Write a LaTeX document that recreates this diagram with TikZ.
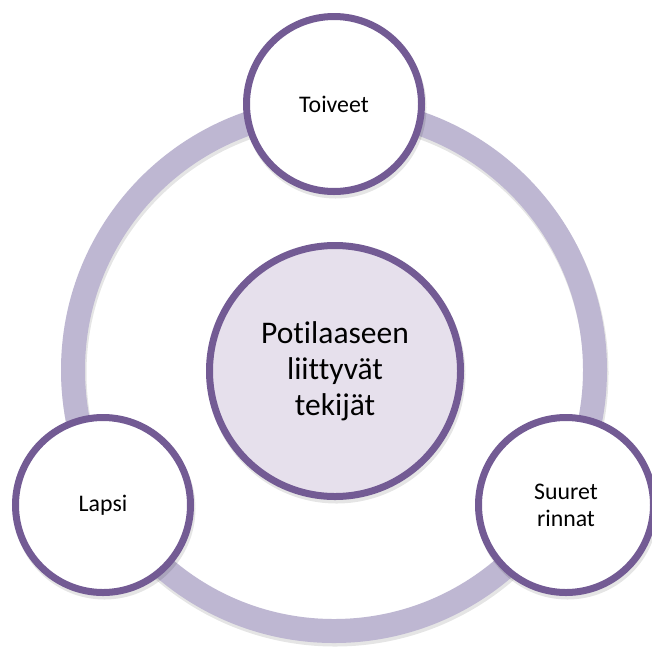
\documentclass[tikz,border=0pt]{standalone}
\usepackage{fontspec}
\setmainfont{Carlito}[Ligatures={NoCommon,NoRare,NoContextual},RawFeature={-liga;-dlig;-calt}]
\definecolor{ringc}{RGB}{190,183,210}
\definecolor{bordc}{RGB}{115,91,148}
\definecolor{centc}{RGB}{230,224,236}
\begin{document}
\begin{tikzpicture}[x=1pt,y=-1pt,
  ringline/.style={draw=ringc, line width=24pt},
  ringshadow/.style={draw=black, opacity=0.10, line width=25pt},
  discshadow/.style={fill=black, opacity=0.10},
  sat/.style={circle, draw=bordc, line width=7pt, fill=white, minimum size=175pt,
    inner sep=0pt, align=center, font=\fontsize{23.8}{27}\selectfont},
  hub/.style={circle, draw=bordc, line width=7pt, fill=centc, minimum size=251pt,
    inner sep=0pt, align=center, font=\fontsize{31.5}{36}\selectfont}]
\useasboundingbox (0,0) rectangle (652,646);
\fill[white] (0,0) rectangle (652,646);
\coordinate (O) at (334,370);
% ring
\draw[ringshadow] ([shift={(1,3)}]O) circle[radius=261];
\draw[ringline] (O) circle[radius=261];
% satellite shadows
\fill[discshadow] (335.5,107.5) circle[radius=91];
\fill[discshadow] (104.5,508.5) circle[radius=91];
\fill[discshadow] (567.5,508.5) circle[radius=91];
% satellites
\node[sat] (top) at (334,104) {Toiveet};
\node[sat] (left) at (103,505) {Lapsi};
\node[sat] (right) at (566,505) {Suuret\\rinnat};
% hub
\fill[discshadow] (336.5,374.5) circle[radius=129];
\node[hub] (hub) at (335,371) {Potilaaseen\\liittyvät\\tekijät};
\end{tikzpicture}
\end{document}
